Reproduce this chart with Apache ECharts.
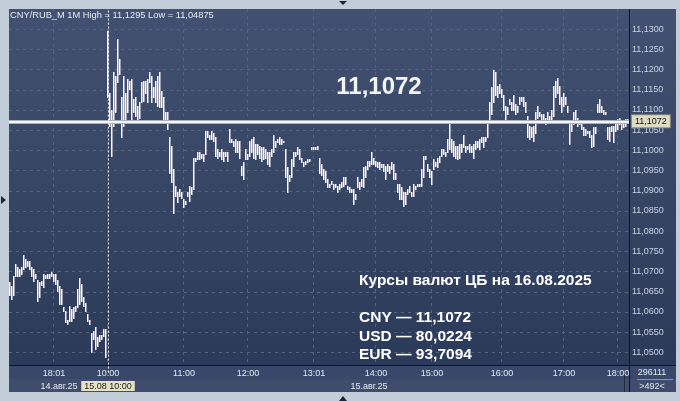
<!DOCTYPE html>
<html><head><meta charset="utf-8">
<script src="https://cdn.jsdelivr.net/npm/echarts@6/dist/echarts.min.js"></script>
<style>html,body{margin:0;padding:0;background:#c3ccd9}#c{width:680px;height:401px}</style>
</head><body><div id="c"></div>
<script>
// ---- data: minute bars [high, low] ----
const day14 = [
[11.0672,11.0642],[11.0662,11.0630],[11.0687,11.0642],[11.0717,11.0687],[11.0709,11.0687],[11.0704,11.0687],[11.0709,11.0694],[11.0739,11.0704],[11.0729,11.0709],[11.0724,11.0712],
[11.0724,11.0704],[11.0709,11.0687],[11.0704,11.0675],[11.0692,11.0684],[11.0679,11.0625],[11.0672,11.0635],[11.0675,11.0665],[11.0692,11.0660],[11.0690,11.0682],[11.0692,11.0684],
[11.0692,11.0684],[11.0697,11.0687],[11.0692,11.0675],[11.0692,11.0667],[11.0679,11.0650],[11.0662,11.0618],[11.0655,11.0618],[11.0610,11.0600],[11.0600,11.0573],[11.0580,11.0568],
[11.0613,11.0576],[11.0605,11.0576],[11.0610,11.0585],[11.0613,11.0600],[11.0655,11.0610],[11.0684,11.0618],[11.0667,11.0625],[11.0637,11.0613],[11.0622,11.0600],[11.0593,11.0576],
[11.0580,11.0568],[11.0548,11.0499],[11.0551,11.0531],[11.0561,11.0506],[11.0536,11.0514],[11.0543,11.0526],[11.0543,11.0531],[11.0556,11.0539],[11.0556,11.04875]
];
const day15 = [
[11.1295,11.1132],[11.1142,11.1058],[11.1100,11.0984],[11.1192,11.1058],[11.1182,11.1093],[11.1274,11.1167],[11.1224,11.1187],[11.1132,11.1033],[11.1182,11.1058],[11.1142,11.1068],
[11.1175,11.1093],[11.1170,11.1150],[11.1175,11.1071],[11.1125,11.1093],[11.1132,11.1083],[11.1108,11.1068],[11.1118,11.1080],[11.1167,11.1118],[11.1170,11.1120],[11.1170,11.1142],
[11.1175,11.1118],[11.1192,11.1167],[11.1182,11.1118],[11.1155,11.1132],[11.1170,11.1118],[11.1182,11.1108],[11.1192,11.1105],[11.1145,11.1105],[11.1130,11.1068],[11.1093,11.1071],
[11.1093,11.1051],[11.1033,11.0944],[11.1009,11.0920],[11.0952,11.0845],[11.0910,11.0885],[11.0897,11.0870],[11.0902,11.0885],[11.0897,11.0882],[11.0878,11.0858],[11.0873,11.0865],
[11.0897,11.0885],[11.0910,11.0873],[11.0907,11.0890],[11.0981,11.0902],[11.0981,11.0972],[11.0994,11.0977],[11.0994,11.0977],[11.0989,11.0981],[11.0989,11.0972],[11.1046,11.0989],
[11.1046,11.1033],[11.1038,11.1026],[11.1046,11.1026],[11.1043,11.1021],[11.1033,11.0984],[11.1001,11.0981],[11.0996,11.0984],[11.1001,11.0977],[11.0996,11.0972],[11.0996,11.0984],
[11.0996,11.0972],[11.1051,11.1019],[11.1026,11.1019],[11.1021,11.1009],[11.1026,11.0994],[11.1021,11.0996],[11.1021,11.0981],[11.0959,11.0939],[11.0969,11.0927],[11.1001,11.0977],
[11.0989,11.0977],[11.1021,11.0984],[11.1026,11.0994],[11.1031,11.0981],[11.1014,11.0977],[11.1014,11.0989],[11.1009,11.0981],[11.1006,11.0972],[11.1006,11.0977],[11.1001,11.0981],
[11.0994,11.0964],[11.0994,11.0959],[11.1001,11.0984],[11.1038,11.0994],[11.1021,11.1006],[11.1026,11.1019],[11.1031,11.1014],[11.1026,11.1014],[11.1023,11.1019],[11.1001,11.0934],
[11.0957,11.0895],[11.0939,11.0922],[11.0977,11.0934],[11.0996,11.0959],[11.0996,11.0984],[11.1006,11.0989],[11.1001,11.0977],[11.0981,11.0969],[11.0969,11.0959],[11.0972,11.0964],
[11.0977,11.0969],[11.0977,11.0972],[11.1006,11.1001],[11.1006,11.1001],[11.1006,11.1001],[11.1009,11.1001],[11.0981,11.0944],[11.0964,11.0939],[11.0952,11.0927],[11.0947,11.0920],
[11.0927,11.0907],[11.0915,11.0907],[11.0922,11.0915],[11.0915,11.0902],[11.0915,11.0907],[11.0910,11.0897],[11.0915,11.0902],[11.0920,11.0907],[11.0934,11.0910],[11.0932,11.0915],
[11.0910,11.0902],[11.0907,11.0897],[11.0902,11.0895],[11.0902,11.0865],[11.0890,11.0878],[11.0932,11.0907],[11.0920,11.0902],[11.0927,11.0910],[11.0957,11.0907],[11.0959,11.0934],
[11.0972,11.0952],[11.0972,11.0959],[11.0996,11.0964],[11.0981,11.0964],[11.0972,11.0959],[11.0969,11.0957],[11.0969,11.0952],[11.0964,11.0957],[11.0964,11.0947],[11.0959,11.0927],
[11.0964,11.0947],[11.0959,11.0944],[11.0969,11.0952],[11.0964,11.0927],[11.0944,11.0927],[11.0915,11.0895],[11.0915,11.0878],[11.0907,11.0878],[11.0895,11.0860],[11.0897,11.0865],
[11.0902,11.0890],[11.0910,11.0895],[11.0897,11.0885],[11.0915,11.0885],[11.0910,11.0902],[11.0915,11.0910],[11.0915,11.0910],[11.0952,11.0910],[11.0984,11.0934],[11.0984,11.0977],
[11.0964,11.0947],[11.0952,11.0934],[11.0947,11.0915],[11.0977,11.0952],[11.0969,11.0959],[11.0981,11.0957],[11.0984,11.0969],[11.1001,11.0984],[11.1001,11.0989],[11.0994,11.0984],
[11.1026,11.0996],[11.1063,11.1001],[11.1026,11.0994],[11.1021,11.0984],[11.1009,11.0981],[11.1009,11.0977],[11.1014,11.0981],[11.1014,11.0996],[11.1038,11.1006],[11.1009,11.0996],
[11.1009,11.1001],[11.1014,11.0996],[11.1009,11.0994],[11.1014,11.0981],[11.1021,11.1001],[11.1021,11.1006],[11.1026,11.1001],[11.1031,11.1019],[11.1033,11.1006],[11.1031,11.1021],
[11.1068,11.1031],[11.1118,11.1071],[11.1155,11.1088],[11.1199,11.1118],[11.1192,11.1137],[11.1157,11.1130],[11.1162,11.1142],[11.1150,11.1130],[11.1137,11.1100],[11.1108,11.1068],
[11.1105,11.1088],[11.1125,11.1113],[11.1118,11.1100],[11.1137,11.1100],[11.1113,11.1088],[11.1108,11.1095],[11.1130,11.1113],[11.1132,11.1120],[11.1132,11.1108],[11.1118,11.1093],
[11.1083,11.1033],[11.1058,11.1026],[11.1056,11.1031],[11.1058,11.1021],[11.1093,11.1043],[11.1108,11.1080],[11.1093,11.1083],[11.1088,11.1076],[11.1088,11.1071],[11.1080,11.1063],
[11.1093,11.1071],[11.1083,11.1068],[11.1100,11.1071],[11.1157,11.1083],[11.1170,11.1132],[11.1179,11.1142],[11.1157,11.1113],[11.1132,11.1093],[11.1142,11.1108],[11.1130,11.1113],
[11.1108,11.1093],[11.1063,11.1014],[11.1068,11.1046],[11.1093,11.1063],[11.1100,11.1071],[11.1080,11.1058],[11.1071,11.1063],[11.1068,11.1051],[11.1056,11.1038],[11.1051,11.1038],
[11.1046,11.1043],[11.1046,11.1033],[11.1038,11.1006],[11.1056,11.1009],[11.1056,11.1043],[11.1113,11.1093],[11.1125,11.1093],[11.1108,11.1093],[11.1100,11.1088],[11.1095,11.1088],
[11.1056,11.1026],[11.1056,11.1021],[11.1058,11.1046],[11.1058,11.1019],[11.1063,11.1046],[11.1076,11.1051],[11.1080,11.1063],[11.1071,11.1051],[11.1068,11.1056],[11.1076,11.1058],
[11.1076,11.1068]
];
const lastPrice = 11.1072;
const sessionHigh = '11,1295';
const sessionLow = '11,04875';
const tickBars  = [22, 49, 87, 119, 152, 183, 211, 246, 277, 304];
const tickTimes = ['18:01','10:00','11:00','12:00','13:01','14:00','15:00','16:00','17:00','18:00'];
const yTicks = {min: 11.045, max: 11.135, step: 0.005};
const ratesTitle = 'Курсы валют ЦБ на 16.08.2025';
const rates = ['CNY — 11,1072', 'USD — 80,0224', 'EUR — 93,7094'];

// ---- build ----
const bars = day14.concat(day15);
const categories = bars.map((b, i) => String(i));
const seriesData = bars.map((b, i) => [i, b[0], b[1]]);
const tickMap = {};
tickBars.forEach((b, k) => tickMap[b] = tickTimes[k]);
const fmtNum = v => v.toFixed(4).replace('.', ',');
const FONT = '"Liberation Sans", Arial, sans-serif';

const chart = echarts.init(document.getElementById('c'), null, {renderer: 'canvas'});
chart.setOption({
  backgroundColor: '#c3ccd9',
  animation: false,
  grid: {left: 9, right: 51, top: 9, height: 363.6},
  xAxis: [{
    type: 'category', data: categories, position: 'bottom', z: 10, offset: -7,
    axisLine: {show: false}, axisTick: {show: false}, splitLine: {show: false},
    axisLabel: {
      margin: 2, interval: (i) => tickMap[i] !== undefined,
      formatter: (v, i) => {
        const t = '{t|' + tickMap[i] + '}';
        if (i === 22) return t + '\n{d1|14.авг.25}';
        if (i === 49) return t + '\n{h|15.08 10:00}';
        if (i === 183) return t + '\n{d2|15.авг.25}';
        return t;
      },
      rich: {
        t: {color: '#e4e9f2', fontSize: 9, fontFamily: FONT, lineHeight: 12},
        d1: {color: '#e4e9f2', fontSize: 9, fontFamily: FONT, lineHeight: 13, padding: [0, 0, 0, 10]},
        d2: {color: '#e4e9f2', fontSize: 9, fontFamily: FONT, lineHeight: 13, padding: [0, 14, 0, 0]},
        h: {color: '#1c1c1c', fontSize: 9, fontFamily: FONT, lineHeight: 13, backgroundColor: '#e4e1c4', padding: [1, 3, 0, 3]}
      }
    }
  }, {
    type: 'category', data: categories, position: 'top', z: 0,
    axisLine: {show: false}, axisTick: {show: false}, axisLabel: {show: false},
    splitLine: {show: true, interval: (i) => tickMap[i] !== undefined,
      lineStyle: {color: '#56637f', type: [3, 4], width: 1}}
  }],
  yAxis: {
    type: 'value', position: 'right', min: yTicks.min, max: yTicks.max, interval: yTicks.step,
    axisLine: {show: false}, axisTick: {show: false},
    axisLabel: {margin: 3, color: '#c8d2e6', fontSize: 9, fontFamily: FONT,
      showMinLabel: false, showMaxLabel: false, formatter: fmtNum},
    splitLine: {show: true, showMinLine: false, showMaxLine: false,
      lineStyle: {color: '#56637f', type: [3, 4], width: 1}}
  },
  series: [{
    type: 'custom', xAxisIndex: 0, z: 2,
    data: seriesData,
    encode: {x: 0, y: [1, 2]},
    renderItem: (params, api) => {
      const hi = api.coord([api.value(0), api.value(1)]);
      const lo = api.coord([api.value(0), api.value(2)]);
      const x0 = Math.round(hi[0] - 0.75);
      const y0 = Math.floor(hi[1]);
      return {type: 'rect', shape: {x: x0, y: y0, width: 1.5, height: Math.max(Math.ceil(lo[1]) - y0, 1)},
        style: {fill: '#fff5f0'}};
    }
  }, {
    type: 'line', xAxisIndex: 0, z: 3, data: [], silent: true,
    markLine: {
      silent: true, symbol: 'none', animation: false, precision: 4,
      data: [
        {yAxis: lastPrice, lineStyle: {color: '#a9b0be', width: 4, type: 'solid'},
          label: {show: true, position: 'end', distance: 3, formatter: fmtNum(lastPrice),
            color: '#111', fontSize: 9, fontFamily: FONT, backgroundColor: '#dedbc3',
            borderColor: '#8c8c80', borderWidth: 1, padding: [2, 3, 1, 3]}},
        {yAxis: lastPrice, lineStyle: {color: '#f6f6f6', width: 2, type: 'solid'}, label: {show: false}},
        {xAxis: 49, lineStyle: {color: '#f0f0f0', width: 1, type: [2, 2]}, label: {show: false}}
      ]
    }
  }],
  graphic: [
    {type: 'rect', z: -10, shape: {x: 9, y: 9, width: 667, height: 357},
      style: {fill: new echarts.graphic.LinearGradient(0, 0, 0, 1, [{offset: 0, color: '#425171'}, {offset: 1, color: '#2c3a59'}])}},
    {type: 'rect', z: 5, shape: {x: 9, y: 366, width: 667, height: 13}, style: {fill: '#39476a'}},
    {type: 'rect', z: 5, shape: {x: 9, y: 379, width: 667, height: 13}, style: {fill: '#3f4c6b'}},
    {type: 'line', z: 6, shape: {x1: 9, y1: 365.5, x2: 676, y2: 365.5}, style: {stroke: '#10151f', lineWidth: 1}},
    {type: 'line', z: 6, shape: {x1: 629.5, y1: 9, x2: 629.5, y2: 392}, style: {stroke: '#10151f', lineWidth: 1}},
    {type: 'line', z: 6, shape: {x1: 624.5, y1: 372, x2: 624.5, y2: 392}, style: {stroke: '#222a3a', lineWidth: 1}},
    {type: 'line', z: 6, shape: {x1: 637, y1: 379.5, x2: 673, y2: 379.5}, style: {stroke: '#8a95ab', lineWidth: 1}},
    {type: 'text', z: 7, style: {x: 652, y: 373, text: '296111', fill: '#e4e9f2', font: '9px ' + FONT, textAlign: 'center', textVerticalAlign: 'middle'}},
    {type: 'text', z: 7, style: {x: 652, y: 387, text: '>492<', fill: '#e4e9f2', font: '9px ' + FONT, textAlign: 'center', textVerticalAlign: 'middle'}},
    {type: 'text', z: 7, style: {x: 10, y: 15, text: 'CNY/RUB_M 1M High = ' + sessionHigh + ' Low = ' + sessionLow, fill: '#e6ebf4', font: '9.3px ' + FONT, textVerticalAlign: 'middle'}},
    {type: 'text', z: 7, style: {x: 379, y: 87, text: fmtNum(lastPrice), fill: '#f3f3f3', font: 'bold 24px ' + FONT, textAlign: 'center', textVerticalAlign: 'middle'}},
    {type: 'text', z: 7, style: {x: 359, y: 281, text: ratesTitle, fill: '#ffffff', font: 'bold 15.5px ' + FONT, textVerticalAlign: 'middle'}},
    {type: 'text', z: 7, style: {x: 359, y: 317.5, text: rates[0], fill: '#ffffff', font: 'bold 15.5px ' + FONT, textVerticalAlign: 'middle'}},
    {type: 'text', z: 7, style: {x: 359, y: 336.5, text: rates[1], fill: '#ffffff', font: 'bold 15.5px ' + FONT, textVerticalAlign: 'middle'}},
    {type: 'text', z: 7, style: {x: 359, y: 355, text: rates[2], fill: '#ffffff', font: 'bold 15.5px ' + FONT, textVerticalAlign: 'middle'}},
    {type: 'polygon', z: 7, shape: {points: [[339, 1], [347, 1], [343, 5]]}, style: {fill: '#1e2634'}},
    {type: 'polygon', z: 7, shape: {points: [[1, 196], [1, 204], [6, 200]]}, style: {fill: '#1e2634'}},
    {type: 'polygon', z: 7, shape: {points: [[339, 401], [347, 401], [343, 396]]}, style: {fill: '#1e2634'}}
  ]
});
</script>
</body></html>
